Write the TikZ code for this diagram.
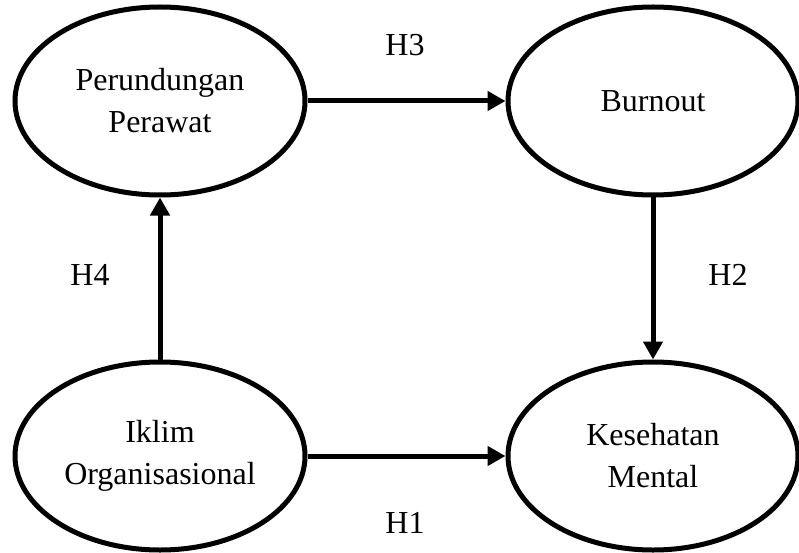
\documentclass[tikz,border=0pt]{standalone}
\usepackage{fontspec}
\setmainfont{Liberation Serif}
\usetikzlibrary{shapes.geometric,arrows.meta}
\begin{document}
\begin{tikzpicture}[x=1pt,y=-1pt,
  var/.style={draw,ellipse,line width=5pt,minimum width=290pt,minimum height=188pt,inner sep=0pt,align=center,font=\fontsize{32}{42}\selectfont},
  lbl/.style={font=\fontsize{32}{42}\selectfont},
  conn/.style={line width=5pt,-{Triangle[length=18pt,width=19pt]}}]
\useasboundingbox (0,0) rectangle (799,553);
\node[var] (tl) at (160,101) {Perundungan\\Perawat};
\node[var] (tr) at (653,101) {Burnout};
\node[var] (bl) at (160,456) {Iklim\\Organisasional};
\node[var] (br) at (653,456) {Kesehatan\\Mental};
\draw[conn] (tl) -- (tr);
\draw[conn] (tr) -- (br);
\draw[conn] (bl) -- (tl);
\draw[conn] (bl) -- (br);
\node[lbl] (h3) at (405,45) {H3};
\node[lbl] (h2) at (728,275) {H2};
\node[lbl] (h4) at (90,275) {H4};
\node[lbl] (h1) at (405,523) {H1};
\end{tikzpicture}
\end{document}
